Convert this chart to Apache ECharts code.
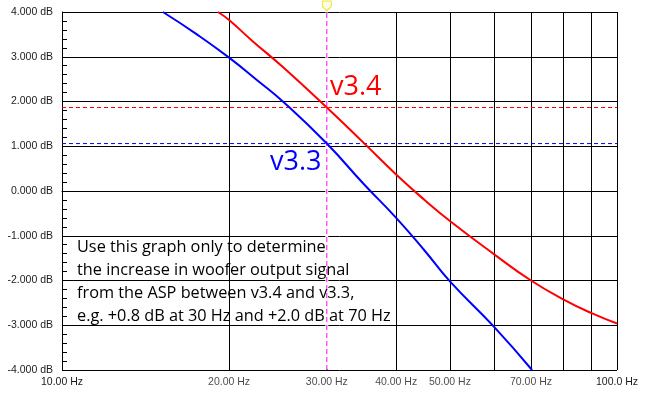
<!DOCTYPE html>
<html>
<head>
<meta charset="utf-8">
<script src="https://cdn.jsdelivr.net/npm/echarts@6/dist/echarts.min.js"></script>
<style>html,body{margin:0;padding:0;background:#fff}#c{width:645px;height:397px}</style>
</head>
<body>
<div id="c"></div>
<script>
// Frequencies (Hz) and levels (dB)
const v34Freq = [19.1, 20, 22, 25, 30, 35, 40, 45, 50, 60, 70, 80, 90, 100];
const v34Db   = [4.0, 3.82, 3.36, 2.77, 1.866, 1.07, 0.37, -0.2, -0.67, -1.41, -2.0, -2.42, -2.73, -2.96];
const v33Freq = [15.2, 17.5, 20, 22.5, 25, 30, 35, 40, 45, 50, 60, 70.3];
const v33Db   = [4.0, 3.5, 2.98, 2.47, 2.0, 1.06, 0.15, -0.6, -1.33, -2.02, -3.03, -4.0];
const refLevels = [1.866, 1.06];            // dashed reference levels (v3.4, v3.3)
const markerFreq = 30;                      // cursor frequency
const labeledFreqs = [20, 30, 40, 50, 70];
const yMin = -4, yMax = 4, xMin = 10, xMax = 100;
const noteLines = [
  'Use this graph only to determine',
  'the increase in woofer output signal',
  'from the ASP between v3.4 and v3.3,',
  'e.g. +0.8 dB at 30 Hz and +2.0 dB at 70 Hz'
];

const pair = (xs, ys) => xs.map((x, i) => [x, ys[i]]);
const fmtHz = v => (v >= 100 ? v.toFixed(1) : v.toFixed(2)) + ' Hz';
const FONT = 'Liberation Sans, Arial, sans-serif';
const LBL = '#1a1a1a';

const chart = echarts.init(document.getElementById('c'), null, {renderer: 'canvas'});

function refLine(data, color, type, z, width) {
  return {type: 'line', data: data, z: z, silent: true, symbol: 'none', clip: false,
    lineStyle: {color: color, type: type, width: width || 1}, itemStyle: {color: color}};
}

const series = [];
series.push(refLine([[xMin, refLevels[0]], [xMax, refLevels[0]]], '#ff0000', [4, 3], 1));
series.push(refLine([[xMin, refLevels[1]], [xMax, refLevels[1]]], '#0000ff', [4, 3], 1));
// the cursor replaces the grid line at its frequency
series.push(refLine([[markerFreq, yMin + 0.01], [markerFreq, yMax - 0.01]], '#ffffff', 'solid', 1.5, 3));
series.push(refLine([[markerFreq, yMin], [markerFreq, yMax + 0.08]], '#ff00ff', [5, 3], 2));
series.push({
  type: 'scatter', silent: true, clip: false, z: 4,
  data: [[markerFreq, yMax]],
  symbol: 'path://M0,0 L10,0 L10,6 L5,11 L0,6 Z', symbolSize: [9, 10], symbolOffset: [0, -6],
  itemStyle: {color: '#fffbe0', borderColor: '#e8e000', borderWidth: 1}
});
series.push({
  type: 'scatter', silent: true, clip: false, z: 4, symbolSize: 0,
  data: labeledFreqs.map(f => [f, yMin]),
  label: {show: true, position: 'bottom', distance: 7, formatter: p => fmtHz(p.value[0]),
    fontFamily: FONT, fontSize: 10.5, color: LBL}
});
series.push({
  name: 'v3.4', type: 'line', z: 3, smooth: 0.5, symbol: 'none',
  lineStyle: {color: '#ff0000', width: 2}, itemStyle: {color: '#ff0000'},
  data: pair(v34Freq, v34Db)
});
series.push({
  name: 'v3.3', type: 'line', z: 3, smooth: 0.5, symbol: 'none',
  lineStyle: {color: '#0000ff', width: 2}, itemStyle: {color: '#0000ff'},
  data: pair(v33Freq, v33Db)
});

chart.setOption({
  animation: false,
  backgroundColor: '#fff',
  grid: {left: 62, right: 28, top: 12, bottom: 27, containLabel: false},
  xAxis: {
    type: 'log', logBase: 10, min: xMin, max: xMax,
    axisLine: {show: true, lineStyle: {color: '#000', width: 1}},
    axisTick: {show: false},
    minorTick: {show: false, splitNumber: 9},
    splitLine: {show: true, lineStyle: {color: '#000', width: 1}},
    minorSplitLine: {show: true, lineStyle: {color: '#000', width: 1}},
    axisLabel: {formatter: fmtHz, margin: 7, fontFamily: FONT, fontSize: 10.5, color: LBL}
  },
  yAxis: {
    type: 'value', min: yMin, max: yMax, interval: 1,
    axisLine: {show: true, lineStyle: {color: '#000', width: 1}},
    axisTick: {show: true, inside: true, length: 5, lineStyle: {color: '#000'}},
    minorTick: {show: true, splitNumber: 5, length: 5, lineStyle: {color: '#000'}},
    splitLine: {show: true, lineStyle: {color: '#000', width: 1}},
    axisLabel: {formatter: v => v.toFixed(3) + ' dB', margin: 9, fontFamily: FONT, fontSize: 10.5, color: LBL}
  },
  series: series,
  graphic: [
    {type: 'text', left: 330, top: 74, z: 10,
      style: {text: 'v3.4', font: '27px "Open Sans", sans-serif', fill: '#ff0000'}},
    {type: 'text', left: 270, top: 149, z: 10,
      style: {text: 'v3.3', font: '27px "Open Sans", sans-serif', fill: '#0000ff'}},
    {type: 'text', left: 77, top: 236, z: 10,
      style: {text: noteLines.join('\n'), font: '16.3px "Open Sans", sans-serif', lineHeight: 23, fill: '#000'}}
  ]
});
</script>
</body>
</html>
